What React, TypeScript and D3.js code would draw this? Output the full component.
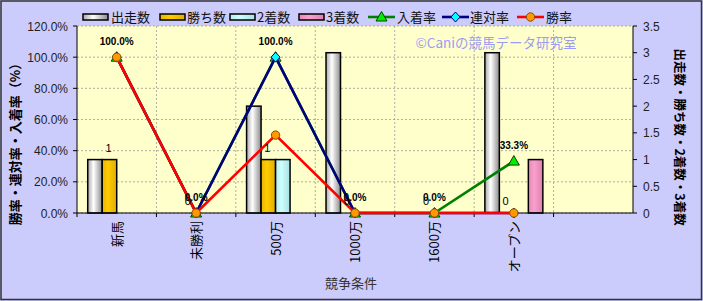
import React from "react";
import * as d3 from "d3";

const categories = ["新馬", "未勝利", "500万", "1000万", "1600万", "オープン", ""];
const barSeries = ["出走数", "勝ち数", "2着数", "3着数"];
const starts = [1, 0, 2, 3, 0, 3, null];
const wins = [1, 0, 1, 0, 0, 0, null];
const seconds = [0, 0, 1, 0, 0, 0, null];
const thirds = [0, 0, 0, 0, 0, 1, null];
const lineSeries = ["入着率", "連対率", "勝率"];
const placeRate = [100, 0, 100, 0, 0, 33.3, null];
const quinellaRate = [100, 0, 100, 0, 0, 0, null];
const winRate = [100, 0, 50, 0, 0, 0, null];
const leftTicks = [0, 20, 40, 60, 80, 100, 120];
const rightTicks = [0, 0.5, 1, 1.5, 2, 2.5, 3, 3.5];

const W = 703, H = 301;
const L = 77, R = 633, T = 26, B = 213;
const FONT = "'Liberation Sans', 'Noto Sans CJK JP', sans-serif";
const JFONT = "'Noto Sans CJK JP', sans-serif";

const barFill: Record<string, string> = {
  出走数: "url(#gStart)",
  勝ち数: "url(#gWin)",
  "2着数": "url(#gSecond)",
  "3着数": "url(#gThird)",
};
const barValues: Record<string, (number | null)[]> = {
  出走数: starts,
  勝ち数: wins,
  "2着数": seconds,
  "3着数": thirds,
};
const lineColor: Record<string, string> = { 入着率: "#008000", 連対率: "#000080", 勝率: "#FF0000" };
const lineValues: Record<string, (number | null)[]> = { 入着率: placeRate, 連対率: quinellaRate, 勝率: winRate };

function Marker({ s, x, y }: { s: string; x: number; y: number }) {
  if (s === "勝率") return <circle cx={x} cy={y} r={4.2} fill="#FF9900" stroke="#8a4a00" strokeWidth={1} />;
  if (s === "連対率")
    return <path d={`M${x},${y - 5}L${x + 4.5},${y}L${x},${y + 5}L${x - 4.5},${y}Z`} fill="#00FFFF" stroke="#000080" strokeWidth={1} />;
  return <path d={`M${x},${y - 5.5}L${x + 5.5},${y + 4}L${x - 5.5},${y + 4}Z`} fill="#00EE00" stroke="#004400" strokeWidth={1} />;
}

export default function App() {
  const x = d3.scaleBand<string>().domain(categories.map((c, i) => String(i))).range([L, R]).padding(0);
  const bw = x.bandwidth();
  const xs = d3.scaleBand<string>().domain(barSeries).range([0, bw]).paddingInner(0).paddingOuter(0.74);
  const yL = d3.scaleLinear().domain([0, 120]).range([B, T]);
  const yR = d3.scaleLinear().domain([0, 3.5]).range([B, T]);
  const cx = (i: number) => (x(String(i)) as number) + bw / 2;

  const line = d3
    .line<number | null>()
    .defined((d) => d != null)
    .x((_, i) => cx(i))
    .y((d) => yL(d as number));

  const legendBars = [
    { s: "出走数", x: 83, tx: 111 },
    { s: "勝ち数", x: 160, tx: 187 },
    { s: "2着数", x: 230, tx: 257 },
    { s: "3着数", x: 299, tx: 326 },
  ];
  const legendLines = [
    { s: "入着率", x: 368, tx: 397 },
    { s: "連対率", x: 442, tx: 470 },
    { s: "勝率", x: 517, tx: 546 },
  ];

  return (
    <svg width={W} height={H} style={{ position: "absolute", left: 0, top: 0 }}>
      <defs>
        <linearGradient id="gStart" x1="0" x2="1" y1="0" y2="0">
          <stop offset="0" stopColor="#a8a8a8" />
          <stop offset="0.4" stopColor="#ffffff" />
          <stop offset="1" stopColor="#8c8c8c" />
        </linearGradient>
        <linearGradient id="gWin" x1="0" x2="1" y1="0" y2="0">
          <stop offset="0" stopColor="#e8b400" />
          <stop offset="0.4" stopColor="#ffcc00" />
          <stop offset="1" stopColor="#e0ac00" />
        </linearGradient>
        <linearGradient id="gSecond" x1="0" x2="1" y1="0" y2="0">
          <stop offset="0" stopColor="#b8ecec" />
          <stop offset="0.4" stopColor="#ccffff" />
          <stop offset="1" stopColor="#a8e0e0" />
        </linearGradient>
        <linearGradient id="gThird" x1="0" x2="1" y1="0" y2="0">
          <stop offset="0" stopColor="#e888b8" />
          <stop offset="0.4" stopColor="#f8a0cc" />
          <stop offset="1" stopColor="#e080b0" />
        </linearGradient>
      </defs>
      <rect x={0} y={0} width={W} height={H} fill="#CCCCFC" />
      <rect x={1} y={1} width={W - 2.5} height={H - 2.5} fill="none" stroke="#333" strokeWidth={1.5} />
      <rect x={L} y={T} width={R - L} height={B - T} fill="#FFFFCC" />

      {/* horizontal gridlines */}
      {leftTicks.map((t) => (
        <line key={"h" + t} x1={L} x2={R} y1={yL(t)} y2={yL(t)} stroke="#999" strokeDasharray="2,2" strokeWidth={0.8} />
      ))}
      {/* vertical gridlines */}
      {categories.slice(1).map((_, i) => (
        <line key={"v" + i} x1={x(String(i + 1))} x2={x(String(i + 1))} y1={T} y2={B} stroke="#999" strokeDasharray="2,2" strokeWidth={0.8} />
      ))}

      {/* watermark */}
      <text x={496} y={48} textAnchor="middle" fontFamily={JFONT} fontSize={13.5} fill="#9C9CF0">
        ©Caniの競馬データ研究室
      </text>

      {/* bars */}
      {barSeries.map((s) =>
        barValues[s].map((v, i) =>
          v != null && v > 0 ? (
            <rect
              key={s + i}
              x={(x(String(i)) as number) + (xs(s) as number)}
              y={yR(v)}
              width={xs.bandwidth()}
              height={B - yR(v)}
              fill={barFill[s]}
              stroke="#000"
              strokeWidth={1.5}
            />
          ) : null
        )
      )}

      {/* axes */}
      <line x1={L} x2={L} y1={T} y2={B} stroke="#000" strokeWidth={1} />
      <line x1={R} x2={R} y1={T} y2={B} stroke="#000" strokeWidth={1} />
      <line x1={L} x2={R} y1={B} y2={B} stroke="#000" strokeWidth={1} />
      {leftTicks.map((t) => (
        <g key={"lt" + t}>
          <line x1={L - 4} x2={L} y1={yL(t)} y2={yL(t)} stroke="#000" />
          <text x={68} y={yL(t) + 4.5} textAnchor="end" fontFamily={FONT} fontSize={12} fill="#222">
            {t.toFixed(1) + "%"}
          </text>
        </g>
      ))}
      {rightTicks.map((t) => (
        <g key={"rt" + t}>
          <line x1={R} x2={R + 4} y1={yR(t)} y2={yR(t)} stroke="#000" />
          <text x={643} y={yR(t) + 4.5} textAnchor="start" fontFamily={FONT} fontSize={12} fill="#222">
            {String(t)}
          </text>
        </g>
      ))}
      {categories.map((c, i) => (
        <g key={"xt" + i}>
          <line x1={x(String(i))} x2={x(String(i))} y1={B} y2={B + 4} stroke="#000" />
          <text
            transform={`translate(${cx(i) + 5},${221}) rotate(-90)`}
            textAnchor="end"
            fontFamily={JFONT}
            fontSize={13}
            fill="#000"
          >
            {c}
          </text>
        </g>
      ))}

      {/* lines */}
      {lineSeries.map((s) => (
        <g key={"ln" + s}>
          <path d={line(lineValues[s]) || ""} fill="none" stroke={lineColor[s]} strokeWidth={2.6} />
          {lineValues[s].map((v, i) => (v != null ? <Marker key={i} s={s} x={cx(i)} y={yL(v)} /> : null))}
        </g>
      ))}

      {/* data labels: 勝ち数 */}
      {wins.map((v, i) =>
        v != null ? (
          <text
            key={"wl" + i}
            x={(x(String(i)) as number) + (xs("勝ち数") as number) + xs.bandwidth() / 2 - 1}
            y={yR(v) - 8}
            textAnchor="middle"
            fontFamily={FONT}
            fontSize={11}
            fill="#000"
          >
            {String(v)}
          </text>
        ) : null
      )}
      {/* data labels: 入着率 */}
      {placeRate.map((v, i) =>
        v != null ? (
          <text
            key={"pl" + i}
            x={cx(i)}
            y={yL(v) - 12}
            textAnchor="middle"
            fontFamily={FONT}
            fontSize={10}
            fontWeight="bold"
            fill="#000"
          >
            {v.toFixed(1) + "%"}
          </text>
        ) : null
      )}

      {/* legend */}
      {legendBars.map((d) => (
        <g key={"lb" + d.s}>
          <rect x={d.x} y={14} width={25} height={6} fill={barFill[d.s]} stroke="#000" strokeWidth={1.5} />
          <text x={d.tx} y={22} fontFamily={JFONT} fontSize={13} fill="#111">
            {d.s}
          </text>
        </g>
      ))}
      {legendLines.map((d) => (
        <g key={"ll" + d.s}>
          <line x1={d.x} x2={d.x + 27} y1={17} y2={17} stroke={lineColor[d.s]} strokeWidth={2.6} />
          <Marker s={d.s} x={d.x + 13.5} y={17} />
          <text x={d.tx} y={22} fontFamily={JFONT} fontSize={13} fill="#111">
            {d.s}
          </text>
        </g>
      ))}

      {/* axis titles */}
      <text transform="translate(20,141) rotate(-90)" textAnchor="middle" fontFamily={JFONT} fontSize={13} fontWeight="bold" fill="#000">
        勝率・連対率・入着率（%）
      </text>
      <text transform="translate(675,137) rotate(90)" textAnchor="middle" fontFamily={JFONT} fontSize={12.5} fontWeight="bold" fill="#000">
        出走数・勝ち数・2着数・3着数
      </text>
      <text x={351} y={288} textAnchor="middle" fontFamily={JFONT} fontSize={13} fill="#333">
        競争条件
      </text>
    </svg>
  );
}
